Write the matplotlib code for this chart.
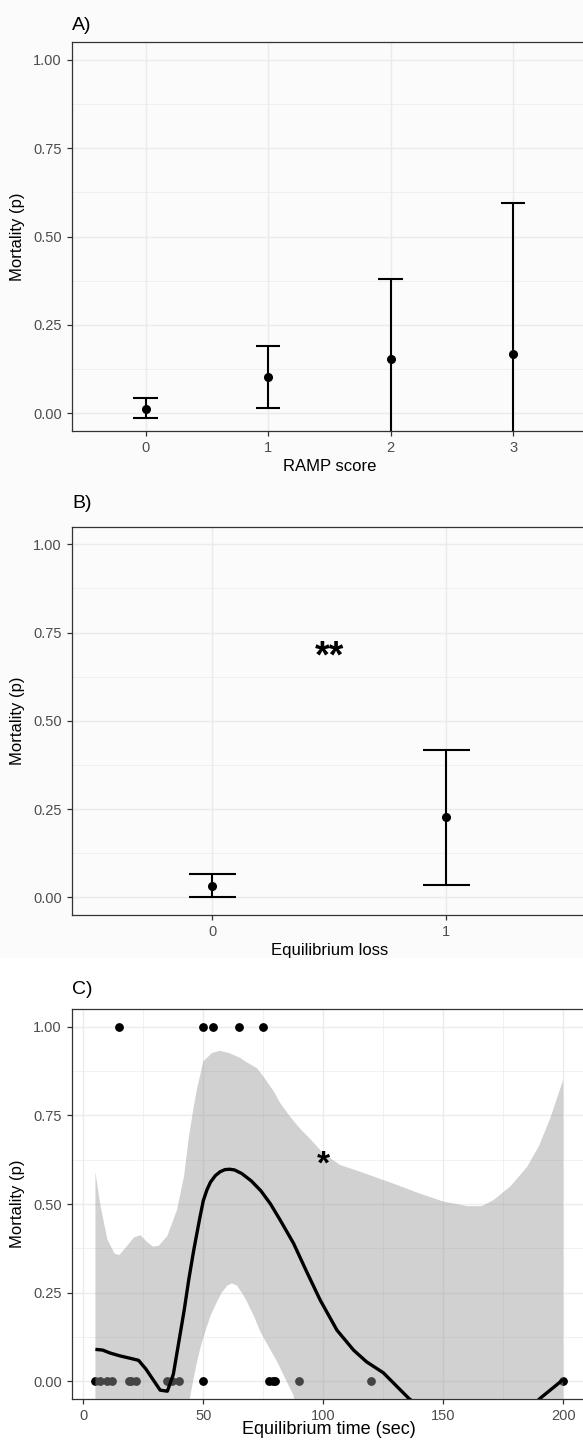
import matplotlib
matplotlib.use("Agg")
import matplotlib.pyplot as plt
from matplotlib.patches import Rectangle
import numpy as np

# ---- A) mortality by RAMP score (mean + CI)
ramp_scores = ["0", "1", "2", "3"]
ramp_mean = [0.013, 0.102, 0.154, 0.167]
ramp_low = [-0.013, 0.014, -0.072, -0.262]
ramp_high = [0.042, 0.190, 0.380, 0.596]

# ---- B) mortality by equilibrium loss
loss_levels = ["0", "1"]
loss_mean = [0.033, 0.227]
loss_low = [0.000, 0.036]
loss_high = [0.066, 0.418]

# ---- C) raw observations, equilibrium time vs died (1) / survived (0)
eq_time = [15, 50, 54, 65, 75,
           5, 7, 10, 12, 19, 20, 22, 35, 37, 40, 50, 77.5, 79, 80, 90, 120, 200]
eq_dead = [1, 1, 1, 1, 1,
           0, 0, 0, 0, 0, 0, 0, 0, 0, 0, 0, 0, 0, 0, 0, 0, 0]

# smoother fit
fit_x = [5, 8, 11, 15, 20, 23, 26, 29, 32, 35, 37.5, 40, 42, 44, 46, 48.5, 50,
         51.5, 53, 55, 57, 59, 61, 63, 66, 70, 74, 78, 82, 87.6, 93, 98.7,
         105.7, 112.6, 118, 125, 135.6, 145, 155, 165, 175, 183, 190.4, 200]
fit_y = [0.090, 0.088, 0.080, 0.072, 0.064, 0.059, 0.035, 0.005, -0.025, -0.028,
         0.020, 0.120, 0.200, 0.290, 0.370, 0.460, 0.510, 0.540, 0.562, 0.580,
         0.591, 0.597, 0.598, 0.596, 0.586, 0.565, 0.537, 0.500, 0.455, 0.389,
         0.310, 0.229, 0.144, 0.088, 0.055, 0.024, -0.048, -0.100, -0.140,
         -0.155, -0.135, -0.095, -0.048, 0.005]

# confidence band, upper edge
band_up_x = [5, 7, 10, 13, 15, 18, 21, 23.75, 27, 29, 31.4, 35, 39, 42, 44, 46,
             47.4, 50, 53.6, 57, 61, 65.4, 68, 72.4, 75, 79.3, 82, 86.3, 90, 95,
             100, 107, 115.4, 129, 140, 150, 160, 166, 171, 178, 185, 190, 194.6,
             197, 200]
band_up_y = [0.590, 0.500, 0.400, 0.360, 0.356, 0.380, 0.405, 0.412, 0.390, 0.380,
             0.382, 0.410, 0.483, 0.580, 0.690, 0.775, 0.826, 0.902, 0.926, 0.932,
             0.925, 0.912, 0.900, 0.883, 0.860, 0.818, 0.785, 0.745, 0.715, 0.680,
             0.643, 0.610, 0.591, 0.558, 0.530, 0.507, 0.494, 0.494, 0.511, 0.550,
             0.605, 0.665, 0.742, 0.790, 0.850]

# confidence band, lower edge
band_lo_x = [5, 20, 35, 41, 44.6, 46, 47.4, 49, 50.8, 53, 55.7, 57.5, 60, 61.9,
             64, 66.5, 68.2, 71, 73.75, 77, 80.7, 84, 87.6, 92, 100, 150, 200]
band_lo_y = [-0.60, -0.55, -0.45, -0.22, -0.040, 0.010, 0.056, 0.100, 0.140,
             0.185, 0.224, 0.248, 0.270, 0.276, 0.270, 0.245, 0.224, 0.185, 0.140,
             0.100, 0.056, 0.010, -0.040, -0.200, -0.400, -0.600, -0.600]

W, H = 583, 1442
BG = "#fbfbfc"
GRID = "#ebebeb"
BORDER = "#333333"
TICKTXT = "#4d4d4d"

plt.rcParams["font.family"] = ["Liberation Sans", "DejaVu Sans"]


def px_axes(fig, left, right, top, bottom):
    return fig.add_axes([left / W, 1 - bottom / H, (right - left) / W, (bottom - top) / H])


def style(ax, face):
    ax.set_facecolor(face)
    for s in ax.spines.values():
        s.set_color(BORDER)
        s.set_linewidth(0.9)
    ax.tick_params(axis="both", which="major", labelsize=10.5, labelcolor=TICKTXT,
                   color=BORDER, length=3.3, width=0.9, pad=4)
    ax.tick_params(axis="both", which="minor", length=0)
    ax.set_ylim(-0.05, 1.05)
    ax.set_yticks([0, 0.25, 0.5, 0.75, 1.0])
    ax.set_yticklabels(["0.00", "0.25", "0.50", "0.75", "1.00"])
    ax.set_yticks([0.125, 0.375, 0.625, 0.875], minor=True)
    ax.grid(True, which="major", color=GRID, linewidth=1.0, zorder=0)
    ax.grid(True, which="minor", axis="y", color=GRID, linewidth=0.5, zorder=0)
    ax.set_axisbelow(True)
    ax.set_ylabel("Mortality (p)", fontsize=12, va="center")
    ax.yaxis.set_label_coords(-0.105, 0.5)


def errbar_panel(ax, labels, mean, low, high):
    pos = np.arange(len(labels))
    ax.errorbar(pos, mean, yerr=[np.array(mean) - np.array(low), np.array(high) - np.array(mean)],
                fmt="none", ecolor="black", elinewidth=1.5, capsize=0, zorder=3)
    ax.hlines(high, pos - 0.1, pos + 0.1, color="black", linewidth=1.5, zorder=3)
    ax.hlines(low, pos - 0.1, pos + 0.1, color="black", linewidth=1.5, zorder=3)
    ax.plot(pos, mean, "o", color="black", markersize=5.5, zorder=4)
    ax.set_xticks(pos)
    ax.set_xticklabels(labels)
    ax.set_xlim(-0.6, len(labels) - 1 + 0.6)


def main():
    fig = plt.figure(figsize=(W / 100, H / 100), dpi=100)
    fig.patch.set_facecolor(BG)
    fig.patches.append(Rectangle((0, 0), 1, 1 - 958 / H, transform=fig.transFigure,
                                 facecolor="white", edgecolor="none", zorder=-10))

    # A)
    ax1 = px_axes(fig, 72, 586.6, 42.3, 431)
    style(ax1, BG)
    errbar_panel(ax1, ramp_scores, ramp_mean, ramp_low, ramp_high)
    ax1.set_xlabel("RAMP score", fontsize=12, va="center")
    ax1.xaxis.set_label_coords(0.5, -35.7 / 388.7)
    fig.text(72 / W, 1 - 25 / H, "A)", fontsize=14, ha="left", va="center")

    # B)
    ax2 = px_axes(fig, 72, 586.6, 526.7, 915)
    style(ax2, BG)
    errbar_panel(ax2, loss_levels, loss_mean, loss_low, loss_high)
    ax2.set_xlabel("Equilibrium loss", fontsize=12, va="center")
    ax2.xaxis.set_label_coords(0.5, -35 / 388.3)
    ax2.text(0.5, 0.68, "**", fontsize=27, fontweight="bold", ha="center", va="center")
    fig.text(72 / W, 1 - 503 / H, "B)", fontsize=14, ha="left", va="center")

    # C)
    ax3 = px_axes(fig, 72, 586.6, 1009, 1399)
    style(ax3, "white")
    ax3.set_xlim(-4.75, 209.75)
    ax3.set_xticks([0, 50, 100, 150, 200])
    ax3.set_xticks([25, 75, 125, 175], minor=True)
    ax3.grid(True, which="minor", axis="x", color=GRID, linewidth=0.5, zorder=0)
    ax3.plot(eq_time, eq_dead, "o", color="black", markersize=5.3, zorder=2)
    ax3.fill(band_up_x + band_lo_x[::-1], band_up_y + band_lo_y[::-1],
             color="#999999", alpha=0.45, linewidth=0, zorder=3)
    ax3.plot(fit_x, fit_y, color="black", linewidth=2.4, zorder=4,
             solid_capstyle="butt", solid_joinstyle="round")
    ax3.text(100, 0.61, "*", fontsize=24, fontweight="bold", ha="center", va="center")
    ax3.set_xlabel("Equilibrium time (sec)", fontsize=13, va="center")
    ax3.xaxis.set_label_coords(0.5, -31 / 390)
    fig.text(72 / W, 1 - 989 / H, "C)", fontsize=14, ha="left", va="center")

    fig.savefig("out.png", dpi=100, facecolor=fig.get_facecolor())


if __name__ == "__main__":
    main()
